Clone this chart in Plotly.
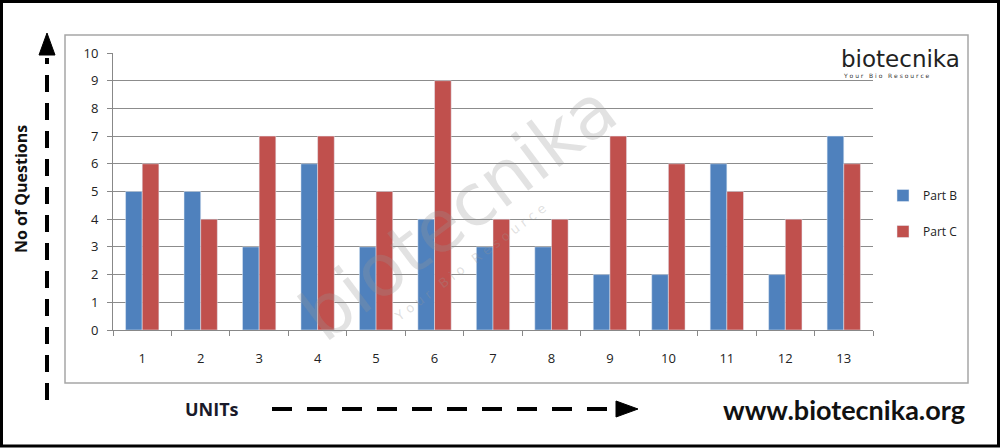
import plotly.graph_objects as go

units = [str(i) for i in range(1, 14)]
part_b = [5, 5, 3, 6, 3, 4, 3, 3, 2, 2, 6, 2, 7]
part_c = [6, 4, 7, 7, 5, 9, 4, 4, 7, 6, 5, 4, 6]
y_ticks = list(range(0, 11))

W, H = 1000, 448
L, R, T, B = 113, 873, 53, 330


def px(x):
    return (x - L) / (R - L)


def py(y):
    return (B - y) / (B - T)


fig = go.Figure()
fig.add_trace(go.Bar(x=units, y=part_b, name="Part B", marker_color="#4F81BD",
                     legendgroup="b"))
fig.add_trace(go.Bar(x=units, y=part_c, name="Part C", marker_color="#C0504D",
                     legendgroup="c"))

shapes = []
# outer black frame
shapes.append(dict(type="rect", xref="paper", yref="paper",
                   x0=px(1.5), x1=px(998.5), y0=py(1.5), y1=py(446),
                   line=dict(color="black", width=3), layer="below"))
# inner chart frame
shapes.append(dict(type="rect", xref="paper", yref="paper",
                   x0=px(65), x1=px(968), y0=py(35), y1=py(383),
                   line=dict(color="#a6a6a6", width=1.5), layer="below"))
# vertical dashed arrow
shapes.append(dict(type="line", xref="paper", yref="paper",
                   x0=px(47), x1=px(47), y0=py(400), y1=py(58),
                   line=dict(color="black", width=4, dash="17px,11px")))
shapes.append(dict(type="path", xref="paper", yref="paper",
                   path=f"M {px(39)} {py(55)} L {px(55)} {py(55)} L {px(47)} {py(33)} Z",
                   fillcolor="black", line=dict(color="black", width=1)))
# horizontal dashed arrow
shapes.append(dict(type="line", xref="paper", yref="paper",
                   x0=px(272), x1=px(617), y0=py(409), y1=py(409),
                   line=dict(color="black", width=4, dash="20px,15px")))
shapes.append(dict(type="path", xref="paper", yref="paper",
                   path=f"M {px(616)} {py(401)} L {px(616)} {py(417)} L {px(638)} {py(409)} Z",
                   fillcolor="black", line=dict(color="black", width=1)))


def note(text, x, y, size, color, family="Lato", angle=0):
    return dict(text=text, xref="paper", yref="paper", x=px(x), y=py(y),
                xanchor="center", yanchor="middle", textangle=angle,
                showarrow=False, font=dict(family=family, size=size, color=color))


annotations = [
    note("<b>No of Questions</b>", 21, 189, 16, "#111", family="Open Sans", angle=-90),
    note("<b>UNITs</b>", 212, 409, 18, "#1a1a2a", family="Open Sans"),
    note("<b>www.biotecnika.org</b>", 844, 409, 27, "#111"),
    # top-right logo
    note("biotecnika", 900, 59, 23, "#222", family="DejaVu Sans"),
    note("Y o u r   B i o   R e s o u r c e", 886, 76, 6, "#333", family="DejaVu Sans"),
    # watermark
    note("biotecnika", 458, 212, 72, "rgba(150,150,150,0.28)",
         family="DejaVu Sans", angle=-37),
    note("Y o u r   B i o   R e s o u r c e", 470, 262, 13,
         "rgba(150,150,150,0.3)", family="DejaVu Sans", angle=-37),
]

fig.update_layout(
    width=W, height=H, autosize=False,
    margin=dict(l=L, r=W - R, t=T, b=H - B),
    paper_bgcolor="white", plot_bgcolor="white",
    barmode="group", bargap=0.43, bargroupgap=0,
    showlegend=True,
    legend=dict(x=px(883), y=py(181), xanchor="left", yanchor="top",
                font=dict(family="Open Sans", size=12, color="#222"),
                tracegroupgap=17, traceorder="grouped",
                itemwidth=30, bgcolor="rgba(0,0,0,0)"),
    shapes=shapes, annotations=annotations,
    font=dict(family="Open Sans", size=12, color="#222"),
)
fig.update_xaxes(type="category", showline=True, linecolor="#888", linewidth=1,
                 ticks="outside", tickson="boundaries", ticklen=5, tickcolor="#888",
                 showgrid=False, tickfont=dict(size=13, color="#222"),
                 ticklabelstandoff=16)
fig.update_yaxes(range=[0, 10], tickvals=y_ticks, showline=True, linecolor="#888",
                 linewidth=1, ticks="outside", ticklen=5, tickcolor="#888",
                 showgrid=True, gridcolor="#8c8c8c", gridwidth=1,
                 tickfont=dict(size=13, color="#222"), zeroline=False,
                 ticklabelstandoff=6)

fig.write_html("out.html", config={"displayModeBar": False},
               post_script="document.body.style.margin='0px';"
                           "document.body.style.overflow='hidden';")
